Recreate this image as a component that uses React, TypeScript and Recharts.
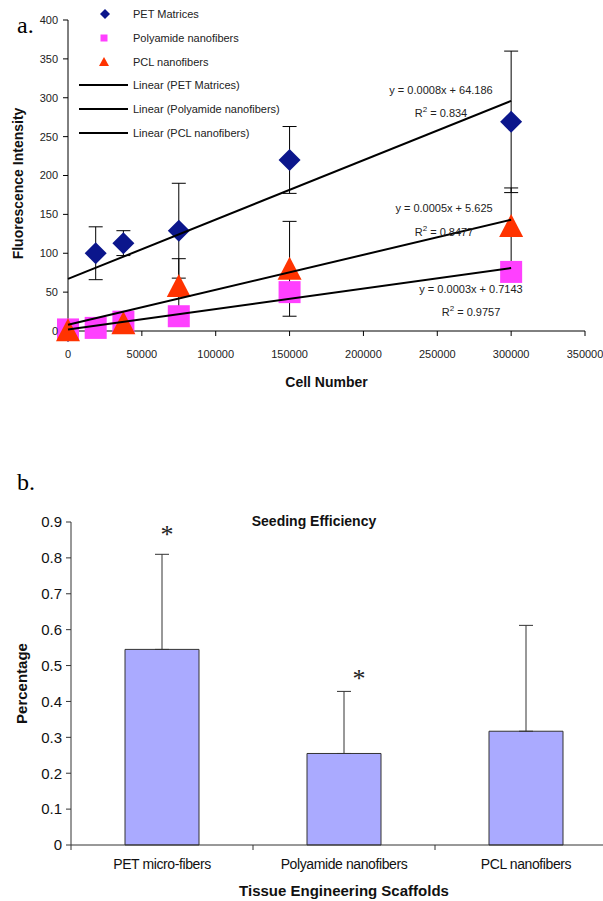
import React from "react";
import {
  ScatterChart,
  Scatter,
  XAxis,
  YAxis,
  ErrorBar,
  Legend,
  BarChart,
  Bar,
  ReferenceDot,
} from "recharts";

// ---- figure a: fluorescence vs cell number ----
const cellNumbers = [0, 18750, 37500, 75000, 150000, 300000];
const petMatrices = [0, 100, 113, 129, 220, 269];
const petError = [0, 34, 16, 61, 43, 91];
const polyamideNano = [2, 4, 12, 19, 50, 76];
const pclCells = [0, 37500, 75000, 150000, 300000];
const pclNano = [1, 10, 58, 80, 135];
const pclError = [0, 0, 35, 61, 49];

// trendline end points as drawn
const trendX = [0, 300000];
const petTrend = [67, 296];
const polyamideTrend = [2, 81];
const pclTrend = [8, 143];

const cellTicks = [0, 50000, 100000, 150000, 200000, 250000, 300000, 350000];
const intensityTicks = [0, 50, 100, 150, 200, 250, 300, 350, 400];

const seriesNames = ["PET Matrices", "Polyamide nanofibers", "PCL nanofibers"];
const trendEquations = ["y = 0.0008x + 64.186", "y = 0.0003x + 0.7143", "y = 0.0005x + 5.625"];
const rSquared = ["0.834", "0.9757", "0.8477"];

// ---- figure b: seeding efficiency ----
const scaffolds = ["PET micro-fibers", "Polyamide nanofibers", "PCL nanofibers"];
const efficiency = [0.545, 0.255, 0.317];
const efficiencyError = [0.265, 0.173, 0.295];
const percentTicks = [0, 0.1, 0.2, 0.3, 0.4, 0.5, 0.6, 0.7, 0.8, 0.9];
const starLevel = [0.875, 0.474, null];

const FONT = "'Liberation Sans', Arial, sans-serif";
const SERIF = "'Liberation Serif', 'Times New Roman', serif";
const NAVY = "#0B168C";
const MAGENTA = "#FF40FF";
const RED = "#FF3300";

const toPoints = (xs: number[], ys: number[], errs?: number[]) =>
  xs.map((x, i) => ({ x, y: ys[i], err: errs ? errs[i] : 0 }));

const petData = toPoints(cellNumbers, petMatrices, petError);
const polyData = toPoints(cellNumbers, polyamideNano);
const pclData = toPoints(pclCells, pclNano, pclError);
const petErrData = petData.filter((d) => d.err > 0);
const pclErrData = pclData.filter((d) => d.err > 0);
const petTrendData = toPoints(trendX, petTrend);
const polyTrendData = toPoints(trendX, polyamideTrend);
const pclTrendData = toPoints(trendX, pclTrend);

const barData = scaffolds.map((name, i) => ({
  name,
  value: efficiency[i],
  err: [0, efficiencyError[i]],
}));

const Diamond = ({ cx, cy, s = 11, fill = NAVY }: any) => (
  <polygon points={`${cx},${cy - s} ${cx + s},${cy} ${cx},${cy + s} ${cx - s},${cy}`} fill={fill} />
);
const Square = ({ cx, cy, s = 11, fill = MAGENTA }: any) => (
  <rect x={cx - s} y={cy - s} width={2 * s} height={2 * s} fill={fill} />
);
const Triangle = ({ cx, cy, s = 12, fill = RED }: any) => (
  <polygon points={`${cx},${cy - s} ${cx + s},${cy + s - 1} ${cx - s},${cy + s - 1}`} fill={fill} />
);
const Nothing = () => <g />;

function TrendLegend() {
  const rows = [14, 38, 62, 85, 109, 133];
  const labels = [...seriesNames, ...seriesNames.map((n) => `Linear (${n})`)];
  return (
    <svg width={300} height={150} style={{ display: "block" }}>
      <Diamond cx={105} cy={rows[0]} s={5} />
      <Square cx={104} cy={rows[1]} s={3.5} />
      <Triangle cx={104} cy={rows[2]} s={5} />
      {rows.slice(3).map((y) => (
        <line key={y} x1={79} x2={128} y1={y} y2={y} stroke="#000" strokeWidth={2} />
      ))}
      {labels.map((t, i) => (
        <text key={t} x={133} y={rows[i]} dominantBaseline="central" fontSize={11} fill="#222" fontFamily={FONT}>
          {t}
        </text>
      ))}
    </svg>
  );
}

const tickStyle = { fontSize: 11, fill: "#222", fontFamily: FONT };

function FigureA() {
  const eqPos = [
    [441, 90, 113],
    [471, 289, 312],
    [444, 208, 232],
  ];
  return (
    <div style={{ position: "absolute", left: 0, top: 0 }}>
      <ScatterChart width={603} height={400} margin={{ top: 20, right: 18, bottom: 13, left: 10 }}>
        <XAxis
          type="number"
          dataKey="x"
          domain={[0, 350000]}
          ticks={cellTicks}
          interval={0}
          tick={tickStyle}
          tickSize={5}
          tickMargin={14}
          height={56}
          axisLine={{ stroke: "#000" }}
          tickLine={{ stroke: "#000" }}
          label={(p: any) => (
            <text
              x={p.viewBox.x + p.viewBox.width / 2}
              y={p.viewBox.y + 56}
              textAnchor="middle"
              fontSize={14}
              fontWeight="bold"
              fontFamily={FONT}
              fill="#111"
            >
              Cell Number
            </text>
          )}
        />
        <YAxis
          type="number"
          dataKey="y"
          domain={[0, 400]}
          ticks={intensityTicks}
          interval={0}
          tick={tickStyle}
          tickSize={5}
          tickMargin={5}
          width={58}
          axisLine={{ stroke: "#000" }}
          tickLine={{ stroke: "#000" }}
          label={(p: any) => {
            const x = p.viewBox.x + 8;
            const y = p.viewBox.y + p.viewBox.height / 2 + 8;
            return (
              <text
                x={x}
                y={y}
                transform={`rotate(-90, ${x}, ${y})`}
                textAnchor="middle"
                dominantBaseline="central"
                fontSize={14}
                fontWeight="bold"
                fontFamily={FONT}
                fill="#111"
              >
                Fluorescence Intensity
              </text>
            );
          }}
        />
        <Legend
          layout="vertical"
          align="center"
          verticalAlign="middle"
          wrapperStyle={{ left: 0, top: 0, width: 300, height: 150 }}
          content={() => <TrendLegend />}
        />
        {/* error bars sit under every marker */}
        <Scatter data={petErrData} shape={Nothing} isAnimationActive={false} legendType="none">
          <ErrorBar dataKey="err" direction="y" width={7} stroke="#000" strokeWidth={1} />
        </Scatter>
        <Scatter data={pclErrData} shape={Nothing} isAnimationActive={false} legendType="none">
          <ErrorBar dataKey="err" direction="y" width={7} stroke="#000" strokeWidth={1} />
        </Scatter>
        <Scatter name={seriesNames[0]} data={petData} fill={NAVY} shape={Diamond} isAnimationActive={false} />
        <Scatter name={seriesNames[1]} data={polyData} fill={MAGENTA} shape={Square} isAnimationActive={false} />
        <Scatter name={seriesNames[2]} data={pclData} fill={RED} shape={Triangle} isAnimationActive={false} />
        {[petTrendData, polyTrendData, pclTrendData].map((d, i) => (
          <Scatter
            key={i}
            data={d}
            line={{ stroke: "#000", strokeWidth: 2 }}
            shape={Nothing}
            legendType="none"
            isAnimationActive={false}
          />
        ))}
      </ScatterChart>
      <svg width={603} height={400} style={{ position: "absolute", left: 0, top: 0, pointerEvents: "none" }}>
        <text x={17} y={33} fontSize={24} fontFamily={SERIF} fill="#000">
          a.
        </text>
        {trendEquations.map((eq, i) => (
          <g key={eq} fontSize={11} fontFamily={FONT} fill="#222" textAnchor="middle">
            <text x={eqPos[i][0]} y={eqPos[i][1]} dominantBaseline="central">
              {eq}
            </text>
            <text x={eqPos[i][0]} y={eqPos[i][2] + 4}>
              R<tspan dy={-5} fontSize={8}>2</tspan>
              <tspan dy={5}> = {rSquared[i]}</tspan>
            </text>
          </g>
        ))}
      </svg>
    </div>
  );
}

const B_WIDTH = 640;
const B_MARGIN = { top: 52, right: 23, bottom: 15, left: 11 };
const B_YAXIS = 60;
const BAND = (B_WIDTH - B_MARGIN.left - B_MARGIN.right - B_YAXIS) / scaffolds.length;

const BandTick = ({ x, y, payload }: any) => (
  <g>
    <line x1={x - BAND / 2} x2={x - BAND / 2} y1={y} y2={y + 5} stroke="#333" />
    <text
      x={x}
      y={y + 14}
      dy="0.71em"
      textAnchor="middle"
      fontSize={14}
      letterSpacing={-0.4}
      fill="#111"
      fontFamily={FONT}
    >
      {payload.value}
    </text>
  </g>
);

function FigureB() {
  const starShift = [5, 15];
  return (
    <div style={{ position: "absolute", left: 0, top: 470 }}>
      <BarChart width={B_WIDTH} height={440} data={barData} margin={B_MARGIN}>
        <XAxis
          dataKey="name"
          interval={0}
          tickSize={0}
          tickMargin={0}
          tickLine={false}
          tick={BandTick}
          height={50}
          axisLine={{ stroke: "#333" }}
          label={(p: any) => (
            <text
              x={p.viewBox.x + p.viewBox.width / 2}
              y={p.viewBox.y + 51}
              textAnchor="middle"
              fontSize={15}
              fontWeight="bold"
              fontFamily={FONT}
              fill="#111"
            >
              Tissue Engineering Scaffolds
            </text>
          )}
        />
        <YAxis
          type="number"
          domain={[0, 0.9]}
          ticks={percentTicks}
          interval={0}
          width={B_YAXIS}
          tickSize={5}
          tickMargin={4}
          tick={{ fontSize: 15, fill: "#111", fontFamily: FONT }}
          axisLine={{ stroke: "#333" }}
          tickLine={{ stroke: "#333" }}
          label={(p: any) => {
            const x = p.viewBox.x + 10;
            const y = p.viewBox.y + p.viewBox.height / 2;
            return (
              <text
                x={x}
                y={y}
                transform={`rotate(-90, ${x}, ${y})`}
                textAnchor="middle"
                dominantBaseline="central"
                fontSize={15}
                fontWeight="bold"
                fontFamily={FONT}
                fill="#111"
              >
                Percentage
              </text>
            );
          }}
        />
        <Bar dataKey="value" barSize={74} fill="#AAAAFF" stroke="#333" strokeWidth={1} isAnimationActive={false}>
          <ErrorBar dataKey="err" direction="y" width={7} stroke="#333" strokeWidth={1} />
        </Bar>
        {scaffolds.map((s, i) =>
          starLevel[i] == null ? null : (
            <ReferenceDot
              key={s}
              x={s}
              y={starLevel[i] as number}
              r={0}
              ifOverflow="visible"
              shape={(p: any) => (
                <text x={p.cx + starShift[i]} y={p.cy + 12} textAnchor="middle" fontSize={26} fontWeight={300} fontFamily={SERIF} fill="#222">
                  *
                </text>
              )}
            />
          )
        )}
      </BarChart>
      <svg width={603} height={80} style={{ position: "absolute", left: 0, top: 0, pointerEvents: "none" }}>
        <text x={17} y={20} fontSize={24} fontFamily={SERIF} fill="#000">
          b.
        </text>
        <text x={314} y={51} textAnchor="middle" dominantBaseline="central" fontSize={14} fontWeight="bold" fontFamily={FONT} fill="#111">
          Seeding Efficiency
        </text>
      </svg>
    </div>
  );
}

export default function App() {
  return (
    <div
      style={{
        position: "absolute",
        left: 0,
        top: 0,
        width: 603,
        height: 901,
        overflow: "hidden",
        background: "#fff",
        fontFamily: FONT,
      }}
    >
      <FigureA />
      <FigureB />
    </div>
  );
}
